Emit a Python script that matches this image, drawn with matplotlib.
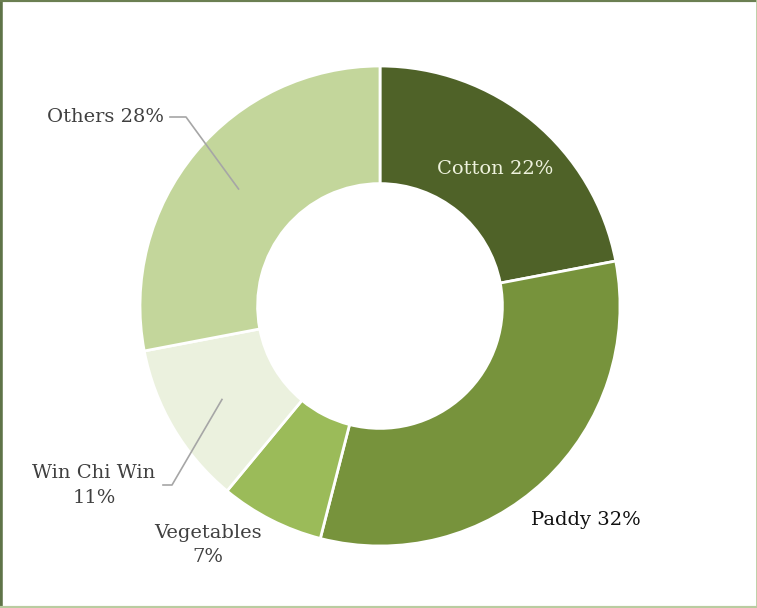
import numpy as np
import matplotlib.pyplot as plt
from matplotlib.lines import Line2D

labels = ['Cotton', 'Paddy', 'Vegetables', 'Win Chi Win', 'Others']
shares = [22, 32, 7, 11, 28]
colors = ['#4f6228', '#77933c', '#9bbb59', '#ebf1de', '#c3d69b']

W, H = 757, 608
CX, CY, R = 380, 306, 240   # donut centre and radius in pixels


def px(x, y):
    # pixel position (from top left) -> data coords of the full-figure axes
    return (x - CX) / R, (CY - y) / R


fig = plt.figure(figsize=(W / 100, H / 100), dpi=100)
ax = fig.add_axes([0, 0, 1, 1])

wedges, _ = ax.pie(shares, colors=colors, startangle=90, counterclock=False,
                   radius=1.0,
                   wedgeprops=dict(width=0.49, edgecolor='white', linewidth=2))

# pie() resets the limits, so set them afterwards
ax.set_xlim(-CX / R, (W - CX) / R)
ax.set_ylim(-(H - CY) / R, CY / R)
ax.axis('off')

font = dict(family='DejaVu Serif', fontsize=14)
txt = '#404040'

ax.text(*px(495, 169), f'{labels[0]} {shares[0]}%', color='#eef2dd',
        ha='center', va='center', **font)
ax.text(*px(586, 520), f'{labels[1]} {shares[1]}%', color='#111111',
        ha='center', va='center', **font)
ax.text(*px(208, 545), f'{labels[2]}\n{shares[2]}%', color=txt,
        ha='center', va='center', linespacing=1.5, **font)
ax.text(*px(94, 486), f'{labels[3]}\n{shares[3]}%', color=txt,
        ha='center', va='center', linespacing=1.5, **font)
ax.text(*px(164, 117), f'{labels[4]} {shares[4]}%', color=txt,
        ha='right', va='center', **font)

# leader lines to the middle of the light wedges
angles = np.cumsum([0] + shares)
for i, (x0, x1, y0) in {3: (163, 172, 485), 4: (170, 186, 117)}.items():
    mid = np.deg2rad(90 - 3.6 * (angles[i] + angles[i + 1]) / 2)
    ex, ey = 0.765 * np.cos(mid), 0.765 * np.sin(mid)
    sx, sy = px(x0, y0)
    bx, _ = px(x1, y0)
    ax.plot([sx, bx, ex], [sy, sy, ey], color='#a6a6a6', lw=1.2)

# frame around the picture
for xs, ys, c, lw in [([0, 0], [0, 1], '#5f7448', 4),
                      ([0, 1], [1, 1], '#6b7f52', 3),
                      ([1, 1], [0, 1], '#b9cca0', 2),
                      ([0, 1], [0, 0], '#b9cca0', 3)]:
    fig.add_artist(Line2D(xs, ys, transform=fig.transFigure, color=c, lw=lw))

fig.savefig('out.png', dpi=100)
